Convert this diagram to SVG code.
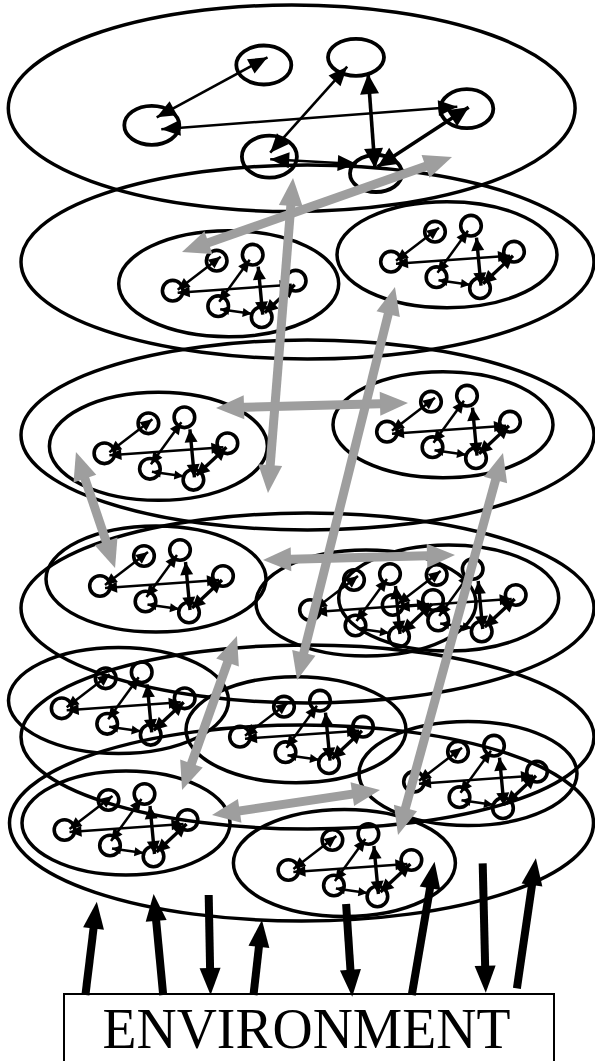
<svg xmlns="http://www.w3.org/2000/svg" xmlns:xlink="http://www.w3.org/1999/xlink" width="595" height="1061" viewBox="0 0 595 1061">
<style>
.o{fill:none;stroke:#000;stroke-width:3.5}
.tc{fill:none;stroke:#000;stroke-width:3.8}
.sc{fill:none;stroke:#000;stroke-width:3.6}
.ta{stroke:#000;stroke-width:2.6;marker-start:url(#ht);marker-end:url(#ht)}
.tb{stroke:#000;stroke-width:3.6;marker-start:url(#htb);marker-end:url(#htb)}
.sa{stroke:#000;stroke-width:2.5;marker-start:url(#hs);marker-end:url(#hs)}
.sb{stroke:#000;stroke-width:3.4;marker-start:url(#hsb);marker-end:url(#hsb)}
.sx{stroke:#000;stroke-width:2.5;marker-start:url(#hx);marker-end:url(#hx)}
.g{stroke:#9e9e9e;stroke-width:9;marker-start:url(#hg);marker-end:url(#hg)}
.e{stroke:#000;stroke-width:8;marker-end:url(#he)}
.lbl{font-family:"Liberation Serif","Times New Roman",serif;font-size:56px;fill:#000}
</style>
<defs>
<marker id="ht" markerUnits="userSpaceOnUse" orient="auto-start-reverse" refX="19" refY="0" markerWidth="20" markerHeight="20" overflow="visible"><path d="M0,-8L19,0L0,8z"/></marker>
<marker id="htb" markerUnits="userSpaceOnUse" orient="auto-start-reverse" refX="20" refY="0" markerWidth="20" markerHeight="20" overflow="visible"><path d="M0,-9.5L20,0L0,9.5z"/></marker>
<marker id="hs" markerUnits="userSpaceOnUse" orient="auto-start-reverse" refX="12" refY="0" markerWidth="12" markerHeight="12" overflow="visible"><path d="M0,-5.5L12,0L0,5.5z"/></marker>
<marker id="hsb" markerUnits="userSpaceOnUse" orient="auto-start-reverse" refX="13" refY="0" markerWidth="12" markerHeight="12" overflow="visible"><path d="M0,-6.5L13,0L0,6.5z"/></marker>
<marker id="hx" markerUnits="userSpaceOnUse" orient="auto-start-reverse" refX="9" refY="0" markerWidth="10" markerHeight="10" overflow="visible"><path d="M0,-4.5L9,0L0,4.5z"/></marker>
<marker id="hg" markerUnits="userSpaceOnUse" orient="auto-start-reverse" refX="10" refY="0" markerWidth="30" markerHeight="30" overflow="visible"><path d="M0,-12L28,0L0,12z" fill="#9e9e9e"/></marker>
<marker id="he" markerUnits="userSpaceOnUse" orient="auto" refX="7" refY="0" markerWidth="30" markerHeight="30" overflow="visible"><path d="M0,-10.5L27,0L0,10.5z"/></marker>
<g id="cl">
<circle class="sc" cx="0" cy="0" r="10.3"/>
<circle class="sc" cx="44" cy="-30" r="10.3"/>
<circle class="sc" cx="80" cy="-36" r="10.3"/>
<circle class="sc" cx="123" cy="-10" r="10.3"/>
<circle class="sc" cx="45.5" cy="15.5" r="10.3"/>
<circle class="sc" cx="89" cy="26.5" r="10.3"/>
<line class="sa" x1="48" y1="-34" x2="5" y2="-1"/>
<line class="sa" x1="5" y1="2" x2="119" y2="-6"/>
<line class="sa" x1="77" y1="-31" x2="46.5" y2="11"/>
<line class="sb" x1="85.5" y1="-24" x2="90" y2="24"/>
<line class="sx" x1="47.5" y1="18.5" x2="79" y2="23"/>
<line class="sb" x1="92" y1="22" x2="122" y2="-6"/>
</g>
</defs>
<rect width="595" height="1061" fill="#fff"/>
<g id="layers">
<ellipse id="layer-1" class="o" cx="291.7" cy="108.3" rx="283.4" ry="103.3"/>
<ellipse id="layer-2" class="o" cx="307.5" cy="262" rx="286.5" ry="97"/>
<ellipse id="layer-3" class="o" cx="307.5" cy="435" rx="286.5" ry="95"/>
<ellipse id="layer-4" class="o" cx="307.5" cy="608" rx="286.5" ry="95"/>
<ellipse id="layer-5" class="o" cx="307.5" cy="737" rx="286.5" ry="92"/>
<ellipse id="layer-6" class="o" cx="301.5" cy="823" rx="292" ry="98"/>
</g>
<g id="top-cluster">
<g id="n1"><ellipse class="tc" cx="263.8" cy="65" rx="27.5" ry="19.5"/></g>
<g id="n2"><ellipse class="tc" cx="356" cy="57.3" rx="28" ry="18.5"/></g>
<g id="n3"><ellipse class="tc" cx="151.8" cy="125.3" rx="27.5" ry="19.5"/></g>
<g id="n4"><ellipse class="tc" cx="466.8" cy="108.7" rx="26.5" ry="19.5"/></g>
<g id="n5"><ellipse class="tc" cx="269.4" cy="156.7" rx="27.5" ry="21"/></g>
<g id="n6"><ellipse class="tc" cx="376" cy="173.5" rx="26" ry="18.5"/></g>
</g>
<g id="agent-2a"><ellipse class="o" cx="228.7" cy="283.7" rx="110" ry="53"/><use href="#cl" transform="translate(172.7,290.7)"/></g>
<g id="agent-2b"><ellipse class="o" cx="447" cy="254.7" rx="110" ry="53"/><use href="#cl" transform="translate(391,261.7)"/></g>
<g id="agent-3a"><ellipse class="o" cx="158.4" cy="446.3" rx="109" ry="54"/><use href="#cl" transform="translate(104.4,453.3)"/></g>
<g id="agent-3b"><ellipse class="o" cx="443" cy="424.7" rx="110" ry="53"/><use href="#cl" transform="translate(387,431.7)"/></g>
<g id="agent-4a"><ellipse class="o" cx="156" cy="579" rx="110" ry="53"/><use href="#cl" transform="translate(100,586)"/></g>
<g id="agent-4b"><ellipse class="o" cx="366" cy="603" rx="110" ry="53"/><use href="#cl" transform="translate(310,610)"/></g>
<g id="agent-4c"><ellipse class="o" cx="448.7" cy="598" rx="110" ry="53"/><use href="#cl" transform="translate(392.7,605)"/></g>
<g id="agent-5a"><ellipse class="o" cx="118.5" cy="700.5" rx="110" ry="53"/><use href="#cl" transform="translate(61.7,708.3)"/></g>
<g id="agent-5b"><ellipse class="o" cx="296" cy="729.7" rx="110" ry="53"/><use href="#cl" transform="translate(240,736.7)"/></g>
<g id="agent-5c"><ellipse class="o" cx="468" cy="773.5" rx="109" ry="52"/><use href="#cl" transform="translate(414,781.7)"/></g>
<g id="agent-6a"><ellipse class="o" cx="126" cy="823" rx="104" ry="52"/><use href="#cl" transform="translate(64.5,830)"/></g>
<g id="agent-6b"><ellipse class="o" cx="344.4" cy="863" rx="111" ry="53.5"/><use href="#cl" transform="translate(288.4,870)"/></g>
<g id="connectors">
<g id="top-links">
<line class="ta" x1="267.5" y1="57.3" x2="156.7" y2="117.3"/>
<line class="ta" x1="161.3" y1="129.3" x2="457.3" y2="106.7"/>
<line class="ta" x1="347.2" y1="66.7" x2="270.2" y2="152.7"/>
<line class="tb" x1="368.1" y1="74" x2="375" y2="168.3"/>
<line class="ta" x1="270.2" y1="159.3" x2="356.7" y2="164"/>
<line class="tb" x1="377.6" y1="166.7" x2="468.7" y2="107.3"/>
</g>
<g id="gray-links">
<line class="g" x1="199" y1="246" x2="435" y2="163"/>
<line class="g" x1="291.6" y1="195.9" x2="269.4" y2="475.1"/>
<line class="g" x1="390.6" y1="304.5" x2="301.4" y2="662.5"/>
<line class="g" x1="234" y1="407.5" x2="390" y2="403.5"/>
<line class="g" x1="81.7" y1="469.1" x2="109.3" y2="550.9"/>
<line class="g" x1="498.2" y1="470.4" x2="402.8" y2="817.6"/>
<line class="g" x1="281" y1="559.5" x2="437" y2="555.5"/>
<line class="g" x1="230.9" y1="653" x2="188.1" y2="773"/>
<line class="g" x1="229.8" y1="812.4" x2="362.2" y2="792.6"/>
</g>
<g id="env-links">
<line class="e" x1="85.4" y1="995" x2="94.4" y2="921.6"/>
<line class="e" x1="163.2" y1="995" x2="155.5" y2="913.9"/>
<line class="e" x1="208.7" y1="895" x2="210.2" y2="975"/>
<line class="e" x1="253.5" y1="995" x2="259.7" y2="939.9"/>
<line class="e" x1="346.1" y1="904" x2="350.9" y2="976.7"/>
<line class="e" x1="411.8" y1="995" x2="431.2" y2="881.4"/>
<line class="e" x1="482.7" y1="863.3" x2="485.3" y2="972.7"/>
<line class="e" x1="516.9" y1="988.3" x2="533" y2="878.1"/>
</g>
</g>
<g id="environment">
<rect x="64" y="994" width="490" height="80" fill="none" stroke="#000" stroke-width="2"/>
<text class="lbl" x="102.5" y="1048" textLength="408" lengthAdjust="spacingAndGlyphs">ENVIRONMENT</text>
</g>
</svg>
